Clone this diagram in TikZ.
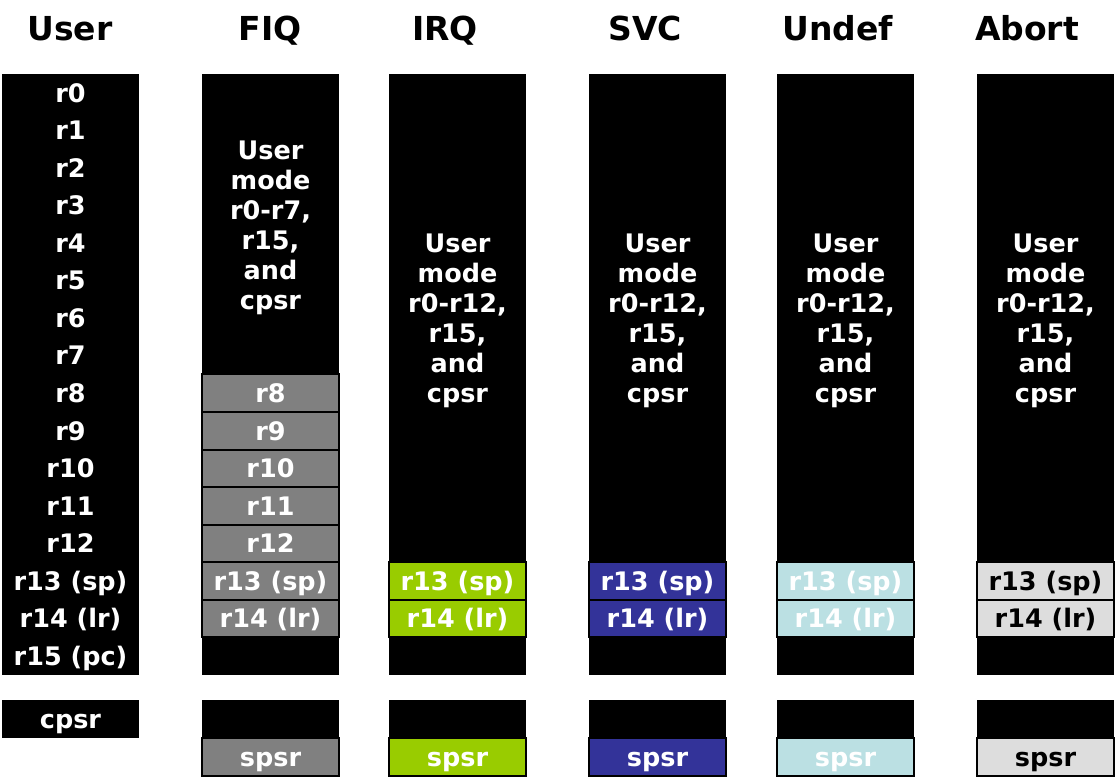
\documentclass[tikz,border=0pt]{standalone}
\usepackage{fontspec}
\setmainfont{DejaVu Sans}
\usepackage{xcolor}

\definecolor{fiqgray}{HTML}{808080}
\definecolor{irqgreen}{HTML}{99CC00}
\definecolor{svcblue}{HTML}{333399}
\definecolor{undcyan}{HTML}{BBE0E3}
\definecolor{abtgray}{HTML}{DDDDDD}

\tikzset{
    title/.style={font=\fontsize{33}{38}\selectfont\bfseries,
                  text height=24pt,text depth=0pt,inner sep=0pt},
    col/.style={fill=black,minimum width=137pt,inner sep=0pt},
    reg/.style={col,minimum height=37.56pt,text=white,
                font=\fontsize{25.5}{30}\selectfont\bfseries,
                text height=18.5pt,text depth=0pt},
    bank/.style={reg,draw=black,line width=2pt},
    txt/.style={text=white,align=center,inner sep=0pt,
                font=\fontsize{25.5}{30}\selectfont\bfseries}
}

\begin{document}
\begin{tikzpicture}[x=1pt,y=-1pt]
            \useasboundingbox[fill=white] (0,0) rectangle (1115,777);
            % titles
            \node[title] (tuser) at (70,28) {User};
            \node[title] (tfiq) at (270,28) {FIQ};
            \node[title] (tirq) at (445,28) {IRQ};
            \node[title] (tsvc) at (645,28) {SVC};
            \node[title] (tund) at (838,28) {Undef};
            \node[title] (tabt) at (1027,28) {Abort};
            % user mode
            \foreach \i/\t in {0/r0,1/r1,2/r2,3/r3,4/r4,5/r5,6/r6,7/r7,8/r8,9/r9,10/r10,11/r11,12/r12,13/r13 (sp),14/r14 (lr),15/r15 (pc)}
                \node[reg] (u\i) at (70.5,{92.78+37.56*\i}) {\t};
            \node[reg,minimum height=38pt] (ucpsr) at (70.5,719) {cpsr};
            % fiq mode
            \node[col,minimum height=601pt] (fiq) at (270.5,374.5) {};
            \node[txt] (fiqtxt) at (270.5,228) {User\\mode\\r0-r7,\\r15,\\and\\cpsr};
            \foreach \i/\t in {8/r8,9/r9,10/r10,11/r11,12/r12,13/r13 (sp),14/r14 (lr)}
                \node[bank,fill=fiqgray] (f\i) at (270.5,{92.78+37.56*\i}) {\t};
            \node[col,minimum height=76pt] (fiqbox) at (270.5,738) {};
            \node[bank,fill=fiqgray] (fiqspsr) at (270.5,757) {spsr};
            % other banked modes
            \foreach \m/\x/\c/\t in {irq/457.5/irqgreen/white,svc/657.5/svcblue/white,und/845.5/undcyan/white,abt/1045.5/abtgray/black}{
                \node[col,minimum height=601pt] (\m) at (\x,374.5) {};
                \node[txt] (\m txt) at (\x,321) {User\\mode\\r0-r12,\\r15,\\and\\cpsr};
                \node[bank,fill=\c,text=\t] (\m13) at (\x,{92.78+37.56*13}) {r13 (sp)};
                \node[bank,fill=\c,text=\t] (\m14) at (\x,{92.78+37.56*14}) {r14 (lr)};
                \node[col,minimum height=76pt] (\m box) at (\x,738) {};
                \node[bank,fill=\c,text=\t] (\m spsr) at (\x,757) {spsr};
            }
        \end{tikzpicture}
\end{document}
